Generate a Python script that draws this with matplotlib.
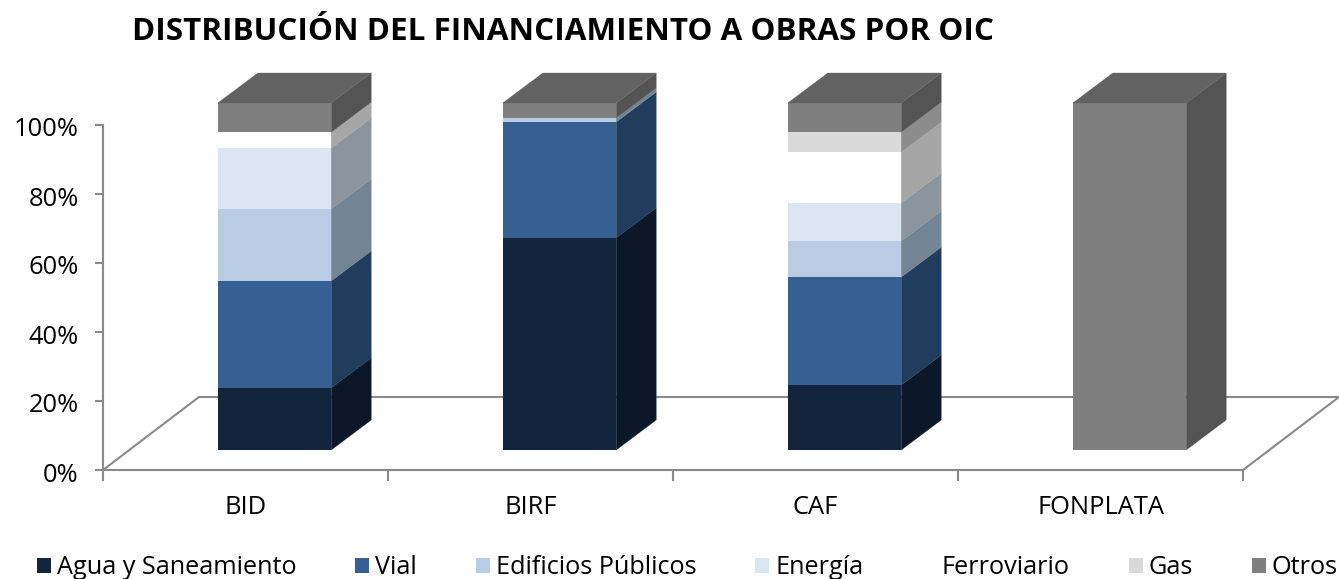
import matplotlib
matplotlib.use("Agg")
import matplotlib.pyplot as plt
from matplotlib.patches import Patch
from matplotlib.transforms import ScaledTranslation
import numpy as np

plt.rcParams['font.family'] = ['Open Sans', 'DejaVu Sans']

W, H = 1339, 579

categories = ["BID", "BIRF", "CAF", "FONPLATA"]
agua = [17.9, 61.1, 18.7, 0]
vial = [30.8, 33.4, 31.1, 0]
edificios = [20.7, 1.2, 10.4, 0]
energia = [17.6, 0, 11.0, 0]
ferroviario = [4.6, 0, 14.7, 0]
gas = [0, 0, 5.7, 0]
otros = [8.4, 4.3, 8.4, 100]

series_names = ["Agua y Saneamiento", "Vial", "Edificios Públicos", "Energía",
                "Ferroviario", "Gas", "Otros"]
series_values = [agua, vial, edificios, energia, ferroviario, gas, otros]
front_colors = ["#12253D", "#366092", "#B8CCE4", "#DCE6F2", "#FFFFFF", "#D9D9D9", "#7F7F7F"]
side_colors = ["#0C1828", "#203D5E", "#738494", "#8C949E", "#A6A6A6", "#8C8C8C", "#545454"]
top_color = "#626262"
axis_color = "#8A8A8A"

PX_X = 285.0          # pixels per category
PX_Y = 3.45           # pixels per percentage point
bar_w = 113.5 / PX_X
bar_dx = 40 / PX_X    # bar depth
bar_dy = 30 / PX_Y
lift_x = 29 / PX_X    # offset of bar front from the axis plane
lift_y = 20 / PX_Y
floor_dx = 96 / PX_X  # floor depth
floor_dy = 73 / PX_Y
persp = 347 / 345     # front plane of the bars is nearer than the axis plane

fig = plt.figure(figsize=(W / 100, H / 100), dpi=100, facecolor="white")
ax = fig.add_axes([103 / W, (H - 470) / H, 1140 / W, 345 / H])
ax.set_xlim(0, len(categories))
ax.set_ylim(0, 100)
ax.patch.set_visible(False)

# floor
n = len(categories)
ax.plot([0, floor_dx, n + floor_dx, n], [0, floor_dy, floor_dy, 0],
        color=axis_color, lw=1.5, clip_on=False, zorder=1, solid_joinstyle="miter")

# stacked 3-D bars
x_left = np.arange(n) + 0.5 - bar_w / 2 + lift_x
bottoms = np.zeros(n)
for vals, fc, sc in zip(series_values, front_colors, side_colors):
    vals = np.array(vals, dtype=float) * persp
    for i in range(n):
        if vals[i] <= 0:
            continue
        y0 = bottoms[i] + lift_y
        y1 = y0 + vals[i]
        xr = x_left[i] + bar_w
        ax.fill([xr, xr + bar_dx, xr + bar_dx, xr],
                [y0, y0 + bar_dy, y1 + bar_dy, y1],
                facecolor=sc, edgecolor=sc, lw=0.2, clip_on=False, zorder=3)
    ax.bar(x_left, vals, width=bar_w, bottom=bottoms + lift_y, align="edge",
           color=fc, linewidth=0, clip_on=False, zorder=4)
    bottoms = bottoms + vals

for i in range(n):
    yt = bottoms[i] + lift_y
    xl = x_left[i]
    ax.fill([xl, xl + bar_w, xl + bar_w + bar_dx, xl + bar_dx],
            [yt, yt, yt + bar_dy, yt + bar_dy],
            facecolor=top_color, edgecolor=top_color, lw=0.2, clip_on=False, zorder=5)

# axes
for s in ("top", "right"):
    ax.spines[s].set_visible(False)
for s in ("left", "bottom"):
    ax.spines[s].set_color(axis_color)
    ax.spines[s].set_linewidth(1.5)
ax.set_yticks(np.arange(0, 101, 20))
ax.set_yticklabels([f"{v}%" for v in range(0, 101, 20)], fontsize=18.4, color="black")
ax.set_xticks(np.arange(n + 1))
ax.set_xticklabels([])
ax.set_xticks(np.arange(n) + 0.5, minor=True)
ax.set_xticklabels(categories, minor=True, fontsize=18.4, color="black")
ax.tick_params(axis="y", length=6, width=1.5, color=axis_color, pad=11.5)
ax.tick_params(axis="x", which="major", length=8, width=1.5, color=axis_color)
ax.tick_params(axis="x", which="minor", length=0, pad=18)
shift = ScaledTranslation(0, -2 / 100, fig.dpi_scale_trans)
for lab in ax.get_yticklabels():
    lab.set_transform(lab.get_transform() + shift)

fig.text(132 / W, 1 - 32 / H, "DISTRIBUCIÓN DEL FINANCIAMIENTO A OBRAS POR OIC",
         fontsize=22.6, fontweight="bold", color="black", ha="left", va="center")

fs = 18.2
handles = [Patch(facecolor=c, edgecolor="none") for c in front_colors]
fig.legend(handles, series_names, ncol=7, loc="center left",
           bbox_to_anchor=(37 / W, 1 - 568 / H), frameon=False, fontsize=fs,
           handlelength=10.1 / fs, handleheight=10.1 / fs, handletextpad=0.235,
           columnspacing=42.3 / fs, borderpad=0, borderaxespad=0)

fig.savefig("out.png", dpi=100, facecolor="white")
